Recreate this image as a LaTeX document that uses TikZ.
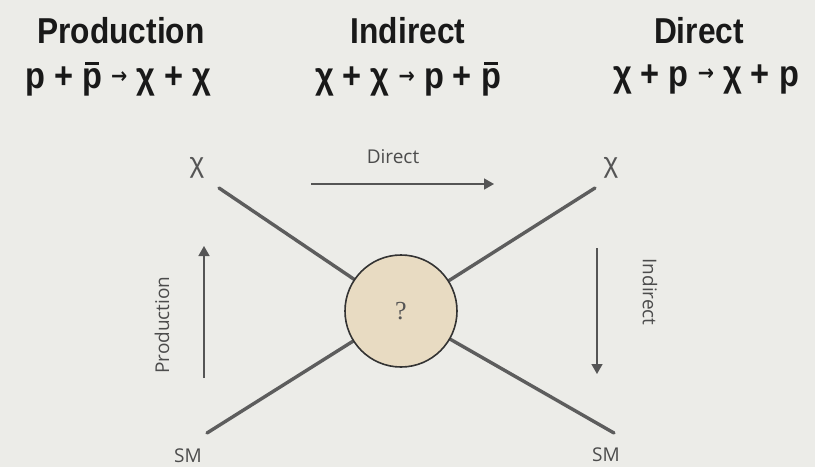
\documentclass[tikz,border=0pt]{standalone}
\usepackage{fontspec}
\setmainfont{Liberation Sans}
\newfontfamily\hand{Open Sans}
\newfontfamily\serifq{Liberation Serif}
\newfontfamily\arrowfont{DejaVu Sans}
\usetikzlibrary{arrows.meta}
\definecolor{bg}{HTML}{ECECE8}
\definecolor{ink}{HTML}{555555}
\definecolor{blob}{HTML}{E8DBC2}
\newcommand{\pb}{{\setbox0\hbox{p}\rlap{\hbox to \wd0{\hss\raisebox{0.64em}{\rule{0.42em}{0.075em}}\hss}}p}}
\newcommand{\ar}{\raisebox{0.14em}{\arrowfont\fontsize{22}{22}\selectfont\textbf{→}}}
\newcommand{\cond}[1]{\scalebox{0.88}[1]{#1}}
\begin{document}
\begin{tikzpicture}[x=1pt,y=-1pt,
  title/.style={font=\bfseries\fontsize{36}{38}\selectfont, text=black!90, inner sep=0pt},
  eqn/.style={font=\bfseries\fontsize{37}{38}\selectfont, text=black!90, inner sep=0pt},
  chilab/.style={font=\fontsize{28}{28}\selectfont, text=ink, inner sep=0pt},
  handlab/.style={font=\hand\fontsize{19}{19}\selectfont, text=ink!90!black, inner sep=0pt},
  leg/.style={draw=ink!95, line width=3.4pt, line cap=round},
  flow/.style={draw=ink, line width=1.6pt, -{Triangle[length=10pt,width=11pt]}}]
\fill[bg] (0,0) rectangle (815,467);
\useasboundingbox (0,0) rectangle (815,467);
% headings
\node[title] (h1) at (121,31) {\cond{Production}};
\node[title] (h2) at (408,31) {\cond{Indirect}};
\node[title] (h3) at (699,31) {\cond{Direct}};
\node[eqn] (e1) at (118,79) {\cond{p + \pb\ \ar\ χ + χ}};
\node[eqn] (e2) at (408,79) {\cond{χ + χ \ar\ p + \pb}};
\node[eqn] (e3) at (706,79) {\cond{χ + p \ar\ χ + p}};
% vertex
\coordinate (c) at (401,311);
\coordinate (tl) at (219,188);
\coordinate (tr) at (595,188);
\coordinate (bl) at (207,433);
\coordinate (br) at (614,433);
\draw[leg] (tl) -- (c);
\draw[leg] (tr) -- (c);
\draw[leg] (bl) -- (c);
\draw[leg] (br) -- (c);
\node[circle, draw=ink!120, line width=1.6pt, fill=blob, minimum size=112pt, inner sep=0pt,
  font=\serifq\fontsize{26}{26}\selectfont, text=ink] (blobn) at (c) {?};
% labels
\node[chilab] (x1) at (197,168) {χ};
\node[chilab] (x2) at (611,168) {χ};
\node[handlab] (sm1) at (188,456) {SM};
\node[handlab] (sm2) at (606,455) {SM};
% arrows
\node[handlab] (ld) at (393,157) {Direct};
\coordinate (d1) at (311,184);
\coordinate (d2) at (494,184);
\draw[flow] (d1) -- (d2);
\node[handlab, rotate=90] (lp) at (162,325) {Production};
\coordinate (p1) at (204,378);
\coordinate (p2) at (204,246);
\draw[flow] (p1) -- (p2);
\node[handlab, rotate=-90] (li) at (650,292) {Indirect};
\coordinate (i1) at (597,248);
\coordinate (i2) at (597,374);
\draw[flow] (i1) -- (i2);
\end{tikzpicture}
\end{document}
